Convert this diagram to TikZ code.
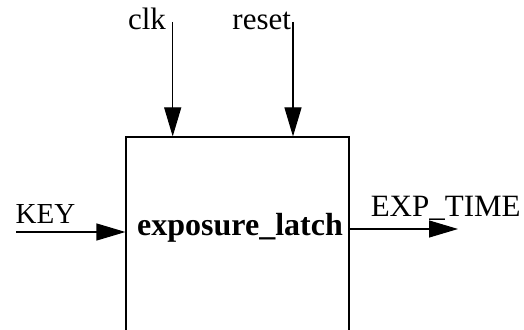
\documentclass[tikz,border=0pt]{standalone}
\usepackage{fontspec}
\setmainfont{Liberation Serif}
\usetikzlibrary{arrows.meta}
\begin{document}
\begin{tikzpicture}[x=1pt,y=1pt,
  wire/.style={line width=1.1pt,-{Triangle[length=29pt,width=17pt]}},
  lbl/.style={inner sep=0pt,anchor=base,font=\fontsize{31}{37}\selectfont},
  blockbox/.style={draw,line width=1.1pt,minimum width=223pt,minimum height=240pt,inner sep=0pt}]
\clip (0,0) rectangle (524,329);
\fill[white] (0,0) rectangle (524,329);
\node[blockbox] (latch) at (237.5,72) {};
\node[lbl,font=\fontsize{32}{38}\selectfont\bfseries] (name) at (240,93) {exposure\_latch};
\coordinate (clkstart) at (172.7,307);
\coordinate (rststart) at (293,307);
\coordinate (keystart) at (16,97);
\coordinate (outend) at (458,100);
\draw[wire] (clkstart) -- (clkstart |- latch.north);
\draw[wire] (rststart) -- (rststart |- latch.north);
\draw[wire] (keystart) -- (keystart -| latch.west);
\draw[wire] (outend -| latch.east) -- (outend);
\node[lbl] (clk) at (147,299) {clk};
\node[lbl] (reset) at (261.7,299) {reset};
\node[lbl,font=\fontsize{29}{35}\selectfont] (key) at (45.5,105.5) {KEY};
\node[lbl] (exp) at (445.7,112.3) {EXP\_TIME};
\end{tikzpicture}
\end{document}
